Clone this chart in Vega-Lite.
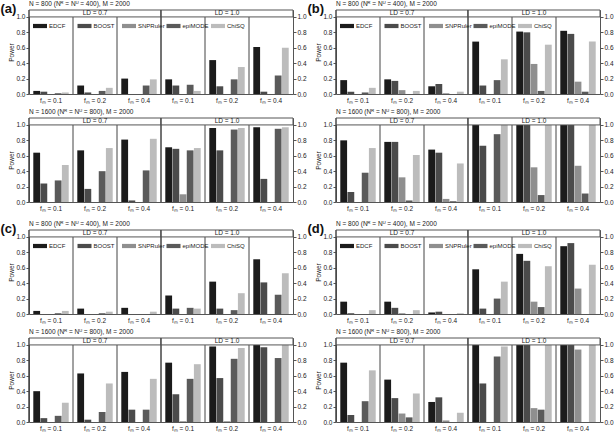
{
  "$schema": "https://vega.github.io/schema/vega-lite/v6.json",
  "padding": 0,
  "background": "white",
  "config": {
    "font": "Liberation Sans",
    "view": {"stroke": "#555", "strokeWidth": 1},
    "axis": {"labelFontSize": 6.5, "titleFontSize": 6.5, "titleFontWeight": "normal", "labelColor": "#222", "titleColor": "#222", "tickColor": "#555"},
    "title": {"fontSize": 6.5, "fontWeight": "normal", "color": "#222"}
  },
  "datasets": {
    "bars": [
      {"panel":"a","N":800,"LD":"LD = 0.7","cond":"0.7 0.1","method":"EDCF","power":0.04},
      {"panel":"a","N":800,"LD":"LD = 0.7","cond":"0.7 0.1","method":"BOOST","power":0.03},
      {"panel":"a","N":800,"LD":"LD = 0.7","cond":"0.7 0.1","method":"SNPRuler","power":0},
      {"panel":"a","N":800,"LD":"LD = 0.7","cond":"0.7 0.1","method":"epiMODE","power":0.01},
      {"panel":"a","N":800,"LD":"LD = 0.7","cond":"0.7 0.1","method":"ChiSQ","power":0.02},
      {"panel":"a","N":800,"LD":"LD = 0.7","cond":"0.7 0.2","method":"EDCF","power":0.11},
      {"panel":"a","N":800,"LD":"LD = 0.7","cond":"0.7 0.2","method":"BOOST","power":0.02},
      {"panel":"a","N":800,"LD":"LD = 0.7","cond":"0.7 0.2","method":"SNPRuler","power":0},
      {"panel":"a","N":800,"LD":"LD = 0.7","cond":"0.7 0.2","method":"epiMODE","power":0.04},
      {"panel":"a","N":800,"LD":"LD = 0.7","cond":"0.7 0.2","method":"ChiSQ","power":0.08},
      {"panel":"a","N":800,"LD":"LD = 0.7","cond":"0.7 0.4","method":"EDCF","power":0.20},
      {"panel":"a","N":800,"LD":"LD = 0.7","cond":"0.7 0.4","method":"BOOST","power":0},
      {"panel":"a","N":800,"LD":"LD = 0.7","cond":"0.7 0.4","method":"SNPRuler","power":0},
      {"panel":"a","N":800,"LD":"LD = 0.7","cond":"0.7 0.4","method":"epiMODE","power":0.11},
      {"panel":"a","N":800,"LD":"LD = 0.7","cond":"0.7 0.4","method":"ChiSQ","power":0.19},
      {"panel":"a","N":800,"LD":"LD = 1.0","cond":"1.0 0.1","method":"EDCF","power":0.19},
      {"panel":"a","N":800,"LD":"LD = 1.0","cond":"1.0 0.1","method":"BOOST","power":0.11},
      {"panel":"a","N":800,"LD":"LD = 1.0","cond":"1.0 0.1","method":"SNPRuler","power":0},
      {"panel":"a","N":800,"LD":"LD = 1.0","cond":"1.0 0.1","method":"epiMODE","power":0.12},
      {"panel":"a","N":800,"LD":"LD = 1.0","cond":"1.0 0.1","method":"ChiSQ","power":0.04},
      {"panel":"a","N":800,"LD":"LD = 1.0","cond":"1.0 0.2","method":"EDCF","power":0.44},
      {"panel":"a","N":800,"LD":"LD = 1.0","cond":"1.0 0.2","method":"BOOST","power":0.10},
      {"panel":"a","N":800,"LD":"LD = 1.0","cond":"1.0 0.2","method":"SNPRuler","power":0},
      {"panel":"a","N":800,"LD":"LD = 1.0","cond":"1.0 0.2","method":"epiMODE","power":0.19},
      {"panel":"a","N":800,"LD":"LD = 1.0","cond":"1.0 0.2","method":"ChiSQ","power":0.35},
      {"panel":"a","N":800,"LD":"LD = 1.0","cond":"1.0 0.4","method":"EDCF","power":0.61},
      {"panel":"a","N":800,"LD":"LD = 1.0","cond":"1.0 0.4","method":"BOOST","power":0.03},
      {"panel":"a","N":800,"LD":"LD = 1.0","cond":"1.0 0.4","method":"SNPRuler","power":0},
      {"panel":"a","N":800,"LD":"LD = 1.0","cond":"1.0 0.4","method":"epiMODE","power":0.24},
      {"panel":"a","N":800,"LD":"LD = 1.0","cond":"1.0 0.4","method":"ChiSQ","power":0.60},

      {"panel":"a","N":1600,"LD":"LD = 0.7","cond":"0.7 0.1","method":"EDCF","power":0.64},
      {"panel":"a","N":1600,"LD":"LD = 0.7","cond":"0.7 0.1","method":"BOOST","power":0.24},
      {"panel":"a","N":1600,"LD":"LD = 0.7","cond":"0.7 0.1","method":"SNPRuler","power":0},
      {"panel":"a","N":1600,"LD":"LD = 0.7","cond":"0.7 0.1","method":"epiMODE","power":0.28},
      {"panel":"a","N":1600,"LD":"LD = 0.7","cond":"0.7 0.1","method":"ChiSQ","power":0.48},
      {"panel":"a","N":1600,"LD":"LD = 0.7","cond":"0.7 0.2","method":"EDCF","power":0.67},
      {"panel":"a","N":1600,"LD":"LD = 0.7","cond":"0.7 0.2","method":"BOOST","power":0.17},
      {"panel":"a","N":1600,"LD":"LD = 0.7","cond":"0.7 0.2","method":"SNPRuler","power":0},
      {"panel":"a","N":1600,"LD":"LD = 0.7","cond":"0.7 0.2","method":"epiMODE","power":0.40},
      {"panel":"a","N":1600,"LD":"LD = 0.7","cond":"0.7 0.2","method":"ChiSQ","power":0.70},
      {"panel":"a","N":1600,"LD":"LD = 0.7","cond":"0.7 0.4","method":"EDCF","power":0.81},
      {"panel":"a","N":1600,"LD":"LD = 0.7","cond":"0.7 0.4","method":"BOOST","power":0.02},
      {"panel":"a","N":1600,"LD":"LD = 0.7","cond":"0.7 0.4","method":"SNPRuler","power":0},
      {"panel":"a","N":1600,"LD":"LD = 0.7","cond":"0.7 0.4","method":"epiMODE","power":0.41},
      {"panel":"a","N":1600,"LD":"LD = 0.7","cond":"0.7 0.4","method":"ChiSQ","power":0.82},
      {"panel":"a","N":1600,"LD":"LD = 1.0","cond":"1.0 0.1","method":"EDCF","power":0.71},
      {"panel":"a","N":1600,"LD":"LD = 1.0","cond":"1.0 0.1","method":"BOOST","power":0.69},
      {"panel":"a","N":1600,"LD":"LD = 1.0","cond":"1.0 0.1","method":"SNPRuler","power":0.10},
      {"panel":"a","N":1600,"LD":"LD = 1.0","cond":"1.0 0.1","method":"epiMODE","power":0.67},
      {"panel":"a","N":1600,"LD":"LD = 1.0","cond":"1.0 0.1","method":"ChiSQ","power":0.70},
      {"panel":"a","N":1600,"LD":"LD = 1.0","cond":"1.0 0.2","method":"EDCF","power":0.96},
      {"panel":"a","N":1600,"LD":"LD = 1.0","cond":"1.0 0.2","method":"BOOST","power":0.67},
      {"panel":"a","N":1600,"LD":"LD = 1.0","cond":"1.0 0.2","method":"SNPRuler","power":0},
      {"panel":"a","N":1600,"LD":"LD = 1.0","cond":"1.0 0.2","method":"epiMODE","power":0.94},
      {"panel":"a","N":1600,"LD":"LD = 1.0","cond":"1.0 0.2","method":"ChiSQ","power":0.96},
      {"panel":"a","N":1600,"LD":"LD = 1.0","cond":"1.0 0.4","method":"EDCF","power":0.97},
      {"panel":"a","N":1600,"LD":"LD = 1.0","cond":"1.0 0.4","method":"BOOST","power":0.30},
      {"panel":"a","N":1600,"LD":"LD = 1.0","cond":"1.0 0.4","method":"SNPRuler","power":0},
      {"panel":"a","N":1600,"LD":"LD = 1.0","cond":"1.0 0.4","method":"epiMODE","power":0.95},
      {"panel":"a","N":1600,"LD":"LD = 1.0","cond":"1.0 0.4","method":"ChiSQ","power":0.97},

      {"panel":"b","N":800,"LD":"LD = 0.7","cond":"0.7 0.1","method":"EDCF","power":0.18},
      {"panel":"b","N":800,"LD":"LD = 0.7","cond":"0.7 0.1","method":"BOOST","power":0.03},
      {"panel":"b","N":800,"LD":"LD = 0.7","cond":"0.7 0.1","method":"SNPRuler","power":0},
      {"panel":"b","N":800,"LD":"LD = 0.7","cond":"0.7 0.1","method":"epiMODE","power":0.02},
      {"panel":"b","N":800,"LD":"LD = 0.7","cond":"0.7 0.1","method":"ChiSQ","power":0.08},
      {"panel":"b","N":800,"LD":"LD = 0.7","cond":"0.7 0.2","method":"EDCF","power":0.19},
      {"panel":"b","N":800,"LD":"LD = 0.7","cond":"0.7 0.2","method":"BOOST","power":0.17},
      {"panel":"b","N":800,"LD":"LD = 0.7","cond":"0.7 0.2","method":"SNPRuler","power":0.05},
      {"panel":"b","N":800,"LD":"LD = 0.7","cond":"0.7 0.2","method":"epiMODE","power":0},
      {"panel":"b","N":800,"LD":"LD = 0.7","cond":"0.7 0.2","method":"ChiSQ","power":0.04},
      {"panel":"b","N":800,"LD":"LD = 0.7","cond":"0.7 0.4","method":"EDCF","power":0.10},
      {"panel":"b","N":800,"LD":"LD = 0.7","cond":"0.7 0.4","method":"BOOST","power":0.13},
      {"panel":"b","N":800,"LD":"LD = 0.7","cond":"0.7 0.4","method":"SNPRuler","power":0.01},
      {"panel":"b","N":800,"LD":"LD = 0.7","cond":"0.7 0.4","method":"epiMODE","power":0},
      {"panel":"b","N":800,"LD":"LD = 0.7","cond":"0.7 0.4","method":"ChiSQ","power":0.03},
      {"panel":"b","N":800,"LD":"LD = 1.0","cond":"1.0 0.1","method":"EDCF","power":0.68},
      {"panel":"b","N":800,"LD":"LD = 1.0","cond":"1.0 0.1","method":"BOOST","power":0.11},
      {"panel":"b","N":800,"LD":"LD = 1.0","cond":"1.0 0.1","method":"SNPRuler","power":0},
      {"panel":"b","N":800,"LD":"LD = 1.0","cond":"1.0 0.1","method":"epiMODE","power":0.18},
      {"panel":"b","N":800,"LD":"LD = 1.0","cond":"1.0 0.1","method":"ChiSQ","power":0.45},
      {"panel":"b","N":800,"LD":"LD = 1.0","cond":"1.0 0.2","method":"EDCF","power":0.81},
      {"panel":"b","N":800,"LD":"LD = 1.0","cond":"1.0 0.2","method":"BOOST","power":0.80},
      {"panel":"b","N":800,"LD":"LD = 1.0","cond":"1.0 0.2","method":"SNPRuler","power":0.39},
      {"panel":"b","N":800,"LD":"LD = 1.0","cond":"1.0 0.2","method":"epiMODE","power":0.04},
      {"panel":"b","N":800,"LD":"LD = 1.0","cond":"1.0 0.2","method":"ChiSQ","power":0.64},
      {"panel":"b","N":800,"LD":"LD = 1.0","cond":"1.0 0.4","method":"EDCF","power":0.82},
      {"panel":"b","N":800,"LD":"LD = 1.0","cond":"1.0 0.4","method":"BOOST","power":0.78},
      {"panel":"b","N":800,"LD":"LD = 1.0","cond":"1.0 0.4","method":"SNPRuler","power":0.16},
      {"panel":"b","N":800,"LD":"LD = 1.0","cond":"1.0 0.4","method":"epiMODE","power":0.03},
      {"panel":"b","N":800,"LD":"LD = 1.0","cond":"1.0 0.4","method":"ChiSQ","power":0.68},

      {"panel":"b","N":1600,"LD":"LD = 0.7","cond":"0.7 0.1","method":"EDCF","power":0.80},
      {"panel":"b","N":1600,"LD":"LD = 0.7","cond":"0.7 0.1","method":"BOOST","power":0.13},
      {"panel":"b","N":1600,"LD":"LD = 0.7","cond":"0.7 0.1","method":"SNPRuler","power":0},
      {"panel":"b","N":1600,"LD":"LD = 0.7","cond":"0.7 0.1","method":"epiMODE","power":0.38},
      {"panel":"b","N":1600,"LD":"LD = 0.7","cond":"0.7 0.1","method":"ChiSQ","power":0.70},
      {"panel":"b","N":1600,"LD":"LD = 0.7","cond":"0.7 0.2","method":"EDCF","power":0.78},
      {"panel":"b","N":1600,"LD":"LD = 0.7","cond":"0.7 0.2","method":"BOOST","power":0.78},
      {"panel":"b","N":1600,"LD":"LD = 0.7","cond":"0.7 0.2","method":"SNPRuler","power":0.32},
      {"panel":"b","N":1600,"LD":"LD = 0.7","cond":"0.7 0.2","method":"epiMODE","power":0.02},
      {"panel":"b","N":1600,"LD":"LD = 0.7","cond":"0.7 0.2","method":"ChiSQ","power":0.61},
      {"panel":"b","N":1600,"LD":"LD = 0.7","cond":"0.7 0.4","method":"EDCF","power":0.68},
      {"panel":"b","N":1600,"LD":"LD = 0.7","cond":"0.7 0.4","method":"BOOST","power":0.64},
      {"panel":"b","N":1600,"LD":"LD = 0.7","cond":"0.7 0.4","method":"SNPRuler","power":0.04},
      {"panel":"b","N":1600,"LD":"LD = 0.7","cond":"0.7 0.4","method":"epiMODE","power":0.01},
      {"panel":"b","N":1600,"LD":"LD = 0.7","cond":"0.7 0.4","method":"ChiSQ","power":0.50},
      {"panel":"b","N":1600,"LD":"LD = 1.0","cond":"1.0 0.1","method":"EDCF","power":1.0},
      {"panel":"b","N":1600,"LD":"LD = 1.0","cond":"1.0 0.1","method":"BOOST","power":0.73},
      {"panel":"b","N":1600,"LD":"LD = 1.0","cond":"1.0 0.1","method":"SNPRuler","power":0},
      {"panel":"b","N":1600,"LD":"LD = 1.0","cond":"1.0 0.1","method":"epiMODE","power":0.88},
      {"panel":"b","N":1600,"LD":"LD = 1.0","cond":"1.0 0.1","method":"ChiSQ","power":1.0},
      {"panel":"b","N":1600,"LD":"LD = 1.0","cond":"1.0 0.2","method":"EDCF","power":1.0},
      {"panel":"b","N":1600,"LD":"LD = 1.0","cond":"1.0 0.2","method":"BOOST","power":1.0},
      {"panel":"b","N":1600,"LD":"LD = 1.0","cond":"1.0 0.2","method":"SNPRuler","power":0.45},
      {"panel":"b","N":1600,"LD":"LD = 1.0","cond":"1.0 0.2","method":"epiMODE","power":0.09},
      {"panel":"b","N":1600,"LD":"LD = 1.0","cond":"1.0 0.2","method":"ChiSQ","power":1.0},
      {"panel":"b","N":1600,"LD":"LD = 1.0","cond":"1.0 0.4","method":"EDCF","power":1.0},
      {"panel":"b","N":1600,"LD":"LD = 1.0","cond":"1.0 0.4","method":"BOOST","power":1.0},
      {"panel":"b","N":1600,"LD":"LD = 1.0","cond":"1.0 0.4","method":"SNPRuler","power":0.47},
      {"panel":"b","N":1600,"LD":"LD = 1.0","cond":"1.0 0.4","method":"epiMODE","power":0.11},
      {"panel":"b","N":1600,"LD":"LD = 1.0","cond":"1.0 0.4","method":"ChiSQ","power":1.0},

      {"panel":"c","N":800,"LD":"LD = 0.7","cond":"0.7 0.1","method":"EDCF","power":0.04},
      {"panel":"c","N":800,"LD":"LD = 0.7","cond":"0.7 0.1","method":"BOOST","power":0},
      {"panel":"c","N":800,"LD":"LD = 0.7","cond":"0.7 0.1","method":"SNPRuler","power":0},
      {"panel":"c","N":800,"LD":"LD = 0.7","cond":"0.7 0.1","method":"epiMODE","power":0.01},
      {"panel":"c","N":800,"LD":"LD = 0.7","cond":"0.7 0.1","method":"ChiSQ","power":0.04},
      {"panel":"c","N":800,"LD":"LD = 0.7","cond":"0.7 0.2","method":"EDCF","power":0.07},
      {"panel":"c","N":800,"LD":"LD = 0.7","cond":"0.7 0.2","method":"BOOST","power":0},
      {"panel":"c","N":800,"LD":"LD = 0.7","cond":"0.7 0.2","method":"SNPRuler","power":0},
      {"panel":"c","N":800,"LD":"LD = 0.7","cond":"0.7 0.2","method":"epiMODE","power":0.01},
      {"panel":"c","N":800,"LD":"LD = 0.7","cond":"0.7 0.2","method":"ChiSQ","power":0.03},
      {"panel":"c","N":800,"LD":"LD = 0.7","cond":"0.7 0.4","method":"EDCF","power":0.08},
      {"panel":"c","N":800,"LD":"LD = 0.7","cond":"0.7 0.4","method":"BOOST","power":0},
      {"panel":"c","N":800,"LD":"LD = 0.7","cond":"0.7 0.4","method":"SNPRuler","power":0},
      {"panel":"c","N":800,"LD":"LD = 0.7","cond":"0.7 0.4","method":"epiMODE","power":0},
      {"panel":"c","N":800,"LD":"LD = 0.7","cond":"0.7 0.4","method":"ChiSQ","power":0.03},
      {"panel":"c","N":800,"LD":"LD = 1.0","cond":"1.0 0.1","method":"EDCF","power":0.24},
      {"panel":"c","N":800,"LD":"LD = 1.0","cond":"1.0 0.1","method":"BOOST","power":0.07},
      {"panel":"c","N":800,"LD":"LD = 1.0","cond":"1.0 0.1","method":"SNPRuler","power":0},
      {"panel":"c","N":800,"LD":"LD = 1.0","cond":"1.0 0.1","method":"epiMODE","power":0.08},
      {"panel":"c","N":800,"LD":"LD = 1.0","cond":"1.0 0.1","method":"ChiSQ","power":0.07},
      {"panel":"c","N":800,"LD":"LD = 1.0","cond":"1.0 0.2","method":"EDCF","power":0.42},
      {"panel":"c","N":800,"LD":"LD = 1.0","cond":"1.0 0.2","method":"BOOST","power":0.07},
      {"panel":"c","N":800,"LD":"LD = 1.0","cond":"1.0 0.2","method":"SNPRuler","power":0},
      {"panel":"c","N":800,"LD":"LD = 1.0","cond":"1.0 0.2","method":"epiMODE","power":0.05},
      {"panel":"c","N":800,"LD":"LD = 1.0","cond":"1.0 0.2","method":"ChiSQ","power":0.27},
      {"panel":"c","N":800,"LD":"LD = 1.0","cond":"1.0 0.4","method":"EDCF","power":0.71},
      {"panel":"c","N":800,"LD":"LD = 1.0","cond":"1.0 0.4","method":"BOOST","power":0.41},
      {"panel":"c","N":800,"LD":"LD = 1.0","cond":"1.0 0.4","method":"SNPRuler","power":0},
      {"panel":"c","N":800,"LD":"LD = 1.0","cond":"1.0 0.4","method":"epiMODE","power":0.25},
      {"panel":"c","N":800,"LD":"LD = 1.0","cond":"1.0 0.4","method":"ChiSQ","power":0.53},

      {"panel":"c","N":1600,"LD":"LD = 0.7","cond":"0.7 0.1","method":"EDCF","power":0.40},
      {"panel":"c","N":1600,"LD":"LD = 0.7","cond":"0.7 0.1","method":"BOOST","power":0.05},
      {"panel":"c","N":1600,"LD":"LD = 0.7","cond":"0.7 0.1","method":"SNPRuler","power":0},
      {"panel":"c","N":1600,"LD":"LD = 0.7","cond":"0.7 0.1","method":"epiMODE","power":0.08},
      {"panel":"c","N":1600,"LD":"LD = 0.7","cond":"0.7 0.1","method":"ChiSQ","power":0.25},
      {"panel":"c","N":1600,"LD":"LD = 0.7","cond":"0.7 0.2","method":"EDCF","power":0.63},
      {"panel":"c","N":1600,"LD":"LD = 0.7","cond":"0.7 0.2","method":"BOOST","power":0.03},
      {"panel":"c","N":1600,"LD":"LD = 0.7","cond":"0.7 0.2","method":"SNPRuler","power":0},
      {"panel":"c","N":1600,"LD":"LD = 0.7","cond":"0.7 0.2","method":"epiMODE","power":0.13},
      {"panel":"c","N":1600,"LD":"LD = 0.7","cond":"0.7 0.2","method":"ChiSQ","power":0.50},
      {"panel":"c","N":1600,"LD":"LD = 0.7","cond":"0.7 0.4","method":"EDCF","power":0.65},
      {"panel":"c","N":1600,"LD":"LD = 0.7","cond":"0.7 0.4","method":"BOOST","power":0.16},
      {"panel":"c","N":1600,"LD":"LD = 0.7","cond":"0.7 0.4","method":"SNPRuler","power":0},
      {"panel":"c","N":1600,"LD":"LD = 0.7","cond":"0.7 0.4","method":"epiMODE","power":0.16},
      {"panel":"c","N":1600,"LD":"LD = 0.7","cond":"0.7 0.4","method":"ChiSQ","power":0.56},
      {"panel":"c","N":1600,"LD":"LD = 1.0","cond":"1.0 0.1","method":"EDCF","power":0.77},
      {"panel":"c","N":1600,"LD":"LD = 1.0","cond":"1.0 0.1","method":"BOOST","power":0.36},
      {"panel":"c","N":1600,"LD":"LD = 1.0","cond":"1.0 0.1","method":"SNPRuler","power":0.01},
      {"panel":"c","N":1600,"LD":"LD = 1.0","cond":"1.0 0.1","method":"epiMODE","power":0.56},
      {"panel":"c","N":1600,"LD":"LD = 1.0","cond":"1.0 0.1","method":"ChiSQ","power":0.75},
      {"panel":"c","N":1600,"LD":"LD = 1.0","cond":"1.0 0.2","method":"EDCF","power":0.98},
      {"panel":"c","N":1600,"LD":"LD = 1.0","cond":"1.0 0.2","method":"BOOST","power":0.57},
      {"panel":"c","N":1600,"LD":"LD = 1.0","cond":"1.0 0.2","method":"SNPRuler","power":0.01},
      {"panel":"c","N":1600,"LD":"LD = 1.0","cond":"1.0 0.2","method":"epiMODE","power":0.82},
      {"panel":"c","N":1600,"LD":"LD = 1.0","cond":"1.0 0.2","method":"ChiSQ","power":0.96},
      {"panel":"c","N":1600,"LD":"LD = 1.0","cond":"1.0 0.4","method":"EDCF","power":1.0},
      {"panel":"c","N":1600,"LD":"LD = 1.0","cond":"1.0 0.4","method":"BOOST","power":0.97},
      {"panel":"c","N":1600,"LD":"LD = 1.0","cond":"1.0 0.4","method":"SNPRuler","power":0},
      {"panel":"c","N":1600,"LD":"LD = 1.0","cond":"1.0 0.4","method":"epiMODE","power":0.83},
      {"panel":"c","N":1600,"LD":"LD = 1.0","cond":"1.0 0.4","method":"ChiSQ","power":1.0},

      {"panel":"d","N":800,"LD":"LD = 0.7","cond":"0.7 0.1","method":"EDCF","power":0.16},
      {"panel":"d","N":800,"LD":"LD = 0.7","cond":"0.7 0.1","method":"BOOST","power":0.01},
      {"panel":"d","N":800,"LD":"LD = 0.7","cond":"0.7 0.1","method":"SNPRuler","power":0},
      {"panel":"d","N":800,"LD":"LD = 0.7","cond":"0.7 0.1","method":"epiMODE","power":0},
      {"panel":"d","N":800,"LD":"LD = 0.7","cond":"0.7 0.1","method":"ChiSQ","power":0.05},
      {"panel":"d","N":800,"LD":"LD = 0.7","cond":"0.7 0.2","method":"EDCF","power":0.16},
      {"panel":"d","N":800,"LD":"LD = 0.7","cond":"0.7 0.2","method":"BOOST","power":0.08},
      {"panel":"d","N":800,"LD":"LD = 0.7","cond":"0.7 0.2","method":"SNPRuler","power":0.01},
      {"panel":"d","N":800,"LD":"LD = 0.7","cond":"0.7 0.2","method":"epiMODE","power":0},
      {"panel":"d","N":800,"LD":"LD = 0.7","cond":"0.7 0.2","method":"ChiSQ","power":0.05},
      {"panel":"d","N":800,"LD":"LD = 0.7","cond":"0.7 0.4","method":"EDCF","power":0.02},
      {"panel":"d","N":800,"LD":"LD = 0.7","cond":"0.7 0.4","method":"BOOST","power":0.03},
      {"panel":"d","N":800,"LD":"LD = 0.7","cond":"0.7 0.4","method":"SNPRuler","power":0},
      {"panel":"d","N":800,"LD":"LD = 0.7","cond":"0.7 0.4","method":"epiMODE","power":0},
      {"panel":"d","N":800,"LD":"LD = 0.7","cond":"0.7 0.4","method":"ChiSQ","power":0.01},
      {"panel":"d","N":800,"LD":"LD = 1.0","cond":"1.0 0.1","method":"EDCF","power":0.58},
      {"panel":"d","N":800,"LD":"LD = 1.0","cond":"1.0 0.1","method":"BOOST","power":0.07},
      {"panel":"d","N":800,"LD":"LD = 1.0","cond":"1.0 0.1","method":"SNPRuler","power":0},
      {"panel":"d","N":800,"LD":"LD = 1.0","cond":"1.0 0.1","method":"epiMODE","power":0.20},
      {"panel":"d","N":800,"LD":"LD = 1.0","cond":"1.0 0.1","method":"ChiSQ","power":0.42},
      {"panel":"d","N":800,"LD":"LD = 1.0","cond":"1.0 0.2","method":"EDCF","power":0.78},
      {"panel":"d","N":800,"LD":"LD = 1.0","cond":"1.0 0.2","method":"BOOST","power":0.69},
      {"panel":"d","N":800,"LD":"LD = 1.0","cond":"1.0 0.2","method":"SNPRuler","power":0.16},
      {"panel":"d","N":800,"LD":"LD = 1.0","cond":"1.0 0.2","method":"epiMODE","power":0.09},
      {"panel":"d","N":800,"LD":"LD = 1.0","cond":"1.0 0.2","method":"ChiSQ","power":0.62},
      {"panel":"d","N":800,"LD":"LD = 1.0","cond":"1.0 0.4","method":"EDCF","power":0.88},
      {"panel":"d","N":800,"LD":"LD = 1.0","cond":"1.0 0.4","method":"BOOST","power":0.92},
      {"panel":"d","N":800,"LD":"LD = 1.0","cond":"1.0 0.4","method":"SNPRuler","power":0.33},
      {"panel":"d","N":800,"LD":"LD = 1.0","cond":"1.0 0.4","method":"epiMODE","power":0},
      {"panel":"d","N":800,"LD":"LD = 1.0","cond":"1.0 0.4","method":"ChiSQ","power":0.64},

      {"panel":"d","N":1600,"LD":"LD = 0.7","cond":"0.7 0.1","method":"EDCF","power":0.77},
      {"panel":"d","N":1600,"LD":"LD = 0.7","cond":"0.7 0.1","method":"BOOST","power":0.09},
      {"panel":"d","N":1600,"LD":"LD = 0.7","cond":"0.7 0.1","method":"SNPRuler","power":0},
      {"panel":"d","N":1600,"LD":"LD = 0.7","cond":"0.7 0.1","method":"epiMODE","power":0.27},
      {"panel":"d","N":1600,"LD":"LD = 0.7","cond":"0.7 0.1","method":"ChiSQ","power":0.67},
      {"panel":"d","N":1600,"LD":"LD = 0.7","cond":"0.7 0.2","method":"EDCF","power":0.55},
      {"panel":"d","N":1600,"LD":"LD = 0.7","cond":"0.7 0.2","method":"BOOST","power":0.31},
      {"panel":"d","N":1600,"LD":"LD = 0.7","cond":"0.7 0.2","method":"SNPRuler","power":0.11},
      {"panel":"d","N":1600,"LD":"LD = 0.7","cond":"0.7 0.2","method":"epiMODE","power":0.06},
      {"panel":"d","N":1600,"LD":"LD = 0.7","cond":"0.7 0.2","method":"ChiSQ","power":0.37},
      {"panel":"d","N":1600,"LD":"LD = 0.7","cond":"0.7 0.4","method":"EDCF","power":0.26},
      {"panel":"d","N":1600,"LD":"LD = 0.7","cond":"0.7 0.4","method":"BOOST","power":0.32},
      {"panel":"d","N":1600,"LD":"LD = 0.7","cond":"0.7 0.4","method":"SNPRuler","power":0.02},
      {"panel":"d","N":1600,"LD":"LD = 0.7","cond":"0.7 0.4","method":"epiMODE","power":0},
      {"panel":"d","N":1600,"LD":"LD = 0.7","cond":"0.7 0.4","method":"ChiSQ","power":0.12},
      {"panel":"d","N":1600,"LD":"LD = 1.0","cond":"1.0 0.1","method":"EDCF","power":1.0},
      {"panel":"d","N":1600,"LD":"LD = 1.0","cond":"1.0 0.1","method":"BOOST","power":0.50},
      {"panel":"d","N":1600,"LD":"LD = 1.0","cond":"1.0 0.1","method":"SNPRuler","power":0},
      {"panel":"d","N":1600,"LD":"LD = 1.0","cond":"1.0 0.1","method":"epiMODE","power":0.85},
      {"panel":"d","N":1600,"LD":"LD = 1.0","cond":"1.0 0.1","method":"ChiSQ","power":0.98},
      {"panel":"d","N":1600,"LD":"LD = 1.0","cond":"1.0 0.2","method":"EDCF","power":1.0},
      {"panel":"d","N":1600,"LD":"LD = 1.0","cond":"1.0 0.2","method":"BOOST","power":1.0},
      {"panel":"d","N":1600,"LD":"LD = 1.0","cond":"1.0 0.2","method":"SNPRuler","power":0.18},
      {"panel":"d","N":1600,"LD":"LD = 1.0","cond":"1.0 0.2","method":"epiMODE","power":0.16},
      {"panel":"d","N":1600,"LD":"LD = 1.0","cond":"1.0 0.2","method":"ChiSQ","power":1.0},
      {"panel":"d","N":1600,"LD":"LD = 1.0","cond":"1.0 0.4","method":"EDCF","power":1.0},
      {"panel":"d","N":1600,"LD":"LD = 1.0","cond":"1.0 0.4","method":"BOOST","power":1.0},
      {"panel":"d","N":1600,"LD":"LD = 1.0","cond":"1.0 0.4","method":"SNPRuler","power":0.94},
      {"panel":"d","N":1600,"LD":"LD = 1.0","cond":"1.0 0.4","method":"epiMODE","power":0},
      {"panel":"d","N":1600,"LD":"LD = 1.0","cond":"1.0 0.4","method":"ChiSQ","power":1.0}
    ]
  },
  "resolve": {"scale": {"color": "independent"}},
  "spacing": 8,
  "vconcat": [
    {
      "resolve": {"scale": {"color": "independent"}},
      "spacing": 0,
      "hconcat": [
        {
          "title": {"text": "(a)", "anchor": "start", "frame": "bounds", "fontSize": 13, "fontWeight": "bold", "color": "#111", "dx": -8, "dy": 15, "offset": 0},
          "resolve": {"scale": {"color": "independent"}},
          "spacing": 4,
          "vconcat": [
            {
              "data": {"name": "bars"},
              "transform": [{"filter": "datum.panel == 'a' && datum.N == 800"}],
              "title": {"text": "N = 800 (Nᴿ = Nᵁ = 400), M = 2000", "anchor": "start", "frame": "group", "offset": 2},
              "width": 264, "height": 84,
              "resolve": {"scale": {"x": "independent"}, "axis": {"y": "independent"}},
              "layer": [
                {
                  "mark": {"type": "bar", "strokeWidth": 0},
                  "encoding": {
                    "x": {"field": "cond", "type": "nominal", "sort": "ascending", "scale": {"paddingInner": 0, "paddingOuter": 0}, "axis": {"orient": "bottom", "title": null, "ticks": false, "domain": false, "labelAngle": 0, "labelPadding": 3, "labelExpr": "'fₘ = ' + slice(datum.label, -3)"}},
                    "xOffset": {"field": "method", "type": "nominal", "sort": ["EDCF", "BOOST", "SNPRuler", "epiMODE", "ChiSQ"], "scale": {"paddingInner": 0.05, "paddingOuter": 0.6}},
                    "y": {"field": "power", "type": "quantitative", "stack": null, "scale": {"domain": [0, 1.09], "nice": false}, "axis": {"orient": "left", "title": "Power", "values": [0, 0.2, 0.4, 0.6, 0.8, 1], "format": ".1f", "grid": false, "domain": false, "tickSize": 3, "labelPadding": 1, "titlePadding": 1}},
                    "color": {"field": "method", "type": "nominal", "scale": {"domain": ["EDCF", "BOOST", "SNPRuler", "epiMODE", "ChiSQ"], "range": ["#1b1b1b", "#4b4b4b", "#8f8f8f", "#5a5a5a", "#bcbcbc"]}, "legend": {"orient": "none", "legendX": 4, "legendY": 9, "direction": "horizontal", "columns": 5, "gridAlign": "all", "title": null, "symbolType": "M-1,-0.3L1,-0.3L1,0.3L-1,0.3Z", "symbolSize": 196, "symbolStrokeWidth": 0, "symbolOpacity": 1, "labelFontSize": 6, "labelOffset": 2, "columnPadding": 1.5, "padding": 0, "labelColor": "#222"}}
                  }
                },
                {
                  "transform": [{"aggregate": [{"op": "count", "as": "n"}], "groupby": ["cond"]}],
                  "mark": {"type": "rule", "color": "#444", "strokeWidth": 1},
                  "encoding": {
                    "x": {"field": "cond", "type": "nominal", "bandPosition": 0, "sort": "ascending", "scale": {"paddingInner": 0, "paddingOuter": 0}, "axis": null},
                    "y": {"datum": 0, "type": "quantitative", "scale": {"domain": [0, 1.09], "nice": false}, "axis": {"orient": "right", "title": null, "values": [0, 0.2, 0.4, 0.6, 0.8, 1], "format": ".1f", "grid": false, "domain": false, "tickSize": 3, "labelPadding": 1}},
                    "y2": {"datum": 1}
                  }
                },
                {
                  "transform": [{"aggregate": [{"op": "count", "as": "n"}], "groupby": ["LD"]}],
                  "mark": {"type": "rect", "fill": "white", "stroke": "#555", "strokeWidth": 1},
                  "encoding": {
                    "x": {"field": "LD", "type": "nominal", "scale": {"paddingInner": 0, "paddingOuter": 0}, "axis": null},
                    "y": {"datum": 1, "type": "quantitative", "scale": {"domain": [0, 1.09], "nice": false}, "axis": null},
                    "y2": {"datum": 1.09}
                  }
                },
                {
                  "transform": [{"aggregate": [{"op": "count", "as": "n"}], "groupby": ["LD"]}],
                  "mark": {"type": "rule", "color": "#444", "strokeWidth": 1},
                  "encoding": {
                    "x": {"field": "LD", "type": "nominal", "bandPosition": 0, "scale": {"paddingInner": 0, "paddingOuter": 0}, "axis": null},
                    "y": {"datum": 0, "type": "quantitative", "scale": {"domain": [0, 1.09], "nice": false}, "axis": null},
                    "y2": {"datum": 1.09}
                  }
                },
                {
                  "transform": [{"aggregate": [{"op": "count", "as": "n"}], "groupby": ["LD"]}],
                  "mark": {"type": "text", "fontSize": 6.5, "color": "#222", "baseline": "middle"},
                  "encoding": {
                    "x": {"field": "LD", "type": "nominal", "scale": {"paddingInner": 0, "paddingOuter": 0}, "axis": null},
                    "y": {"datum": 1.045, "type": "quantitative", "scale": {"domain": [0, 1.09], "nice": false}, "axis": null},
                    "text": {"field": "LD"}
                  }
                }
              ]
            },
            {
              "data": {"name": "bars"},
              "transform": [{"filter": "datum.panel == 'a' && datum.N == 1600"}],
              "title": {"text": "N = 1600 (Nᴿ = Nᵁ = 800), M = 2000", "anchor": "start", "frame": "group", "offset": 2},
              "width": 264, "height": 84,
              "resolve": {"scale": {"x": "independent"}, "axis": {"y": "independent"}},
              "layer": [
                {
                  "mark": {"type": "bar", "strokeWidth": 0},
                  "encoding": {
                    "x": {"field": "cond", "type": "nominal", "sort": "ascending", "scale": {"paddingInner": 0, "paddingOuter": 0}, "axis": {"orient": "bottom", "title": null, "ticks": false, "domain": false, "labelAngle": 0, "labelPadding": 3, "labelExpr": "'fₘ = ' + slice(datum.label, -3)"}},
                    "xOffset": {"field": "method", "type": "nominal", "sort": ["EDCF", "BOOST", "SNPRuler", "epiMODE", "ChiSQ"], "scale": {"paddingInner": 0.05, "paddingOuter": 0.6}},
                    "y": {"field": "power", "type": "quantitative", "stack": null, "scale": {"domain": [0, 1.09], "nice": false}, "axis": {"orient": "left", "title": "Power", "values": [0, 0.2, 0.4, 0.6, 0.8, 1], "format": ".1f", "grid": false, "domain": false, "tickSize": 3, "labelPadding": 1, "titlePadding": 1}},
                    "color": {"field": "method", "type": "nominal", "scale": {"domain": ["EDCF", "BOOST", "SNPRuler", "epiMODE", "ChiSQ"], "range": ["#1b1b1b", "#4b4b4b", "#8f8f8f", "#5a5a5a", "#bcbcbc"]}, "legend": null}
                  }
                },
                {
                  "transform": [{"aggregate": [{"op": "count", "as": "n"}], "groupby": ["cond"]}],
                  "mark": {"type": "rule", "color": "#444", "strokeWidth": 1},
                  "encoding": {
                    "x": {"field": "cond", "type": "nominal", "bandPosition": 0, "sort": "ascending", "scale": {"paddingInner": 0, "paddingOuter": 0}, "axis": null},
                    "y": {"datum": 0, "type": "quantitative", "scale": {"domain": [0, 1.09], "nice": false}, "axis": {"orient": "right", "title": null, "values": [0, 0.2, 0.4, 0.6, 0.8, 1], "format": ".1f", "grid": false, "domain": false, "tickSize": 3, "labelPadding": 1}},
                    "y2": {"datum": 1}
                  }
                },
                {
                  "transform": [{"aggregate": [{"op": "count", "as": "n"}], "groupby": ["LD"]}],
                  "mark": {"type": "rect", "fill": "white", "stroke": "#555", "strokeWidth": 1},
                  "encoding": {
                    "x": {"field": "LD", "type": "nominal", "scale": {"paddingInner": 0, "paddingOuter": 0}, "axis": null},
                    "y": {"datum": 1, "type": "quantitative", "scale": {"domain": [0, 1.09], "nice": false}, "axis": null},
                    "y2": {"datum": 1.09}
                  }
                },
                {
                  "transform": [{"aggregate": [{"op": "count", "as": "n"}], "groupby": ["LD"]}],
                  "mark": {"type": "rule", "color": "#444", "strokeWidth": 1},
                  "encoding": {
                    "x": {"field": "LD", "type": "nominal", "bandPosition": 0, "scale": {"paddingInner": 0, "paddingOuter": 0}, "axis": null},
                    "y": {"datum": 0, "type": "quantitative", "scale": {"domain": [0, 1.09], "nice": false}, "axis": null},
                    "y2": {"datum": 1.09}
                  }
                },
                {
                  "transform": [{"aggregate": [{"op": "count", "as": "n"}], "groupby": ["LD"]}],
                  "mark": {"type": "text", "fontSize": 6.5, "color": "#222", "baseline": "middle"},
                  "encoding": {
                    "x": {"field": "LD", "type": "nominal", "scale": {"paddingInner": 0, "paddingOuter": 0}, "axis": null},
                    "y": {"datum": 1.045, "type": "quantitative", "scale": {"domain": [0, 1.09], "nice": false}, "axis": null},
                    "text": {"field": "LD"}
                  }
                }
              ]
            }
          ]
        },
        {
          "title": {"text": "(b)", "anchor": "start", "frame": "bounds", "fontSize": 13, "fontWeight": "bold", "color": "#111", "dx": -8, "dy": 15, "offset": 0},
          "resolve": {"scale": {"color": "independent"}},
          "spacing": 4,
          "vconcat": [
            {
              "data": {"name": "bars"},
              "transform": [{"filter": "datum.panel == 'b' && datum.N == 800"}],
              "title": {"text": "N = 800 (Nᴿ = Nᵁ = 400), M = 2000", "anchor": "start", "frame": "group", "offset": 2},
              "width": 264, "height": 84,
              "resolve": {"scale": {"x": "independent"}, "axis": {"y": "independent"}},
              "layer": [
                {
                  "mark": {"type": "bar", "strokeWidth": 0},
                  "encoding": {
                    "x": {"field": "cond", "type": "nominal", "sort": "ascending", "scale": {"paddingInner": 0, "paddingOuter": 0}, "axis": {"orient": "bottom", "title": null, "ticks": false, "domain": false, "labelAngle": 0, "labelPadding": 3, "labelExpr": "'fₘ = ' + slice(datum.label, -3)"}},
                    "xOffset": {"field": "method", "type": "nominal", "sort": ["EDCF", "BOOST", "SNPRuler", "epiMODE", "ChiSQ"], "scale": {"paddingInner": 0.05, "paddingOuter": 0.6}},
                    "y": {"field": "power", "type": "quantitative", "stack": null, "scale": {"domain": [0, 1.09], "nice": false}, "axis": {"orient": "left", "title": "Power", "values": [0, 0.2, 0.4, 0.6, 0.8, 1], "format": ".1f", "grid": false, "domain": false, "tickSize": 3, "labelPadding": 1, "titlePadding": 1}},
                    "color": {"field": "method", "type": "nominal", "scale": {"domain": ["EDCF", "BOOST", "SNPRuler", "epiMODE", "ChiSQ"], "range": ["#1b1b1b", "#4b4b4b", "#8f8f8f", "#5a5a5a", "#bcbcbc"]}, "legend": {"orient": "none", "legendX": 4, "legendY": 9, "direction": "horizontal", "columns": 5, "gridAlign": "all", "title": null, "symbolType": "M-1,-0.3L1,-0.3L1,0.3L-1,0.3Z", "symbolSize": 196, "symbolStrokeWidth": 0, "symbolOpacity": 1, "labelFontSize": 6, "labelOffset": 2, "columnPadding": 1.5, "padding": 0, "labelColor": "#222"}}
                  }
                },
                {
                  "transform": [{"aggregate": [{"op": "count", "as": "n"}], "groupby": ["cond"]}],
                  "mark": {"type": "rule", "color": "#444", "strokeWidth": 1},
                  "encoding": {
                    "x": {"field": "cond", "type": "nominal", "bandPosition": 0, "sort": "ascending", "scale": {"paddingInner": 0, "paddingOuter": 0}, "axis": null},
                    "y": {"datum": 0, "type": "quantitative", "scale": {"domain": [0, 1.09], "nice": false}, "axis": {"orient": "right", "title": null, "values": [0, 0.2, 0.4, 0.6, 0.8, 1], "format": ".1f", "grid": false, "domain": false, "tickSize": 3, "labelPadding": 1}},
                    "y2": {"datum": 1}
                  }
                },
                {
                  "transform": [{"aggregate": [{"op": "count", "as": "n"}], "groupby": ["LD"]}],
                  "mark": {"type": "rect", "fill": "white", "stroke": "#555", "strokeWidth": 1},
                  "encoding": {
                    "x": {"field": "LD", "type": "nominal", "scale": {"paddingInner": 0, "paddingOuter": 0}, "axis": null},
                    "y": {"datum": 1, "type": "quantitative", "scale": {"domain": [0, 1.09], "nice": false}, "axis": null},
                    "y2": {"datum": 1.09}
                  }
                },
                {
                  "transform": [{"aggregate": [{"op": "count", "as": "n"}], "groupby": ["LD"]}],
                  "mark": {"type": "rule", "color": "#444", "strokeWidth": 1},
                  "encoding": {
                    "x": {"field": "LD", "type": "nominal", "bandPosition": 0, "scale": {"paddingInner": 0, "paddingOuter": 0}, "axis": null},
                    "y": {"datum": 0, "type": "quantitative", "scale": {"domain": [0, 1.09], "nice": false}, "axis": null},
                    "y2": {"datum": 1.09}
                  }
                },
                {
                  "transform": [{"aggregate": [{"op": "count", "as": "n"}], "groupby": ["LD"]}],
                  "mark": {"type": "text", "fontSize": 6.5, "color": "#222", "baseline": "middle"},
                  "encoding": {
                    "x": {"field": "LD", "type": "nominal", "scale": {"paddingInner": 0, "paddingOuter": 0}, "axis": null},
                    "y": {"datum": 1.045, "type": "quantitative", "scale": {"domain": [0, 1.09], "nice": false}, "axis": null},
                    "text": {"field": "LD"}
                  }
                }
              ]
            },
            {
              "data": {"name": "bars"},
              "transform": [{"filter": "datum.panel == 'b' && datum.N == 1600"}],
              "title": {"text": "N = 1600 (Nᴿ = Nᵁ = 800), M = 2000", "anchor": "start", "frame": "group", "offset": 2},
              "width": 264, "height": 84,
              "resolve": {"scale": {"x": "independent"}, "axis": {"y": "independent"}},
              "layer": [
                {
                  "mark": {"type": "bar", "strokeWidth": 0},
                  "encoding": {
                    "x": {"field": "cond", "type": "nominal", "sort": "ascending", "scale": {"paddingInner": 0, "paddingOuter": 0}, "axis": {"orient": "bottom", "title": null, "ticks": false, "domain": false, "labelAngle": 0, "labelPadding": 3, "labelExpr": "'fₘ = ' + slice(datum.label, -3)"}},
                    "xOffset": {"field": "method", "type": "nominal", "sort": ["EDCF", "BOOST", "SNPRuler", "epiMODE", "ChiSQ"], "scale": {"paddingInner": 0.05, "paddingOuter": 0.6}},
                    "y": {"field": "power", "type": "quantitative", "stack": null, "scale": {"domain": [0, 1.09], "nice": false}, "axis": {"orient": "left", "title": "Power", "values": [0, 0.2, 0.4, 0.6, 0.8, 1], "format": ".1f", "grid": false, "domain": false, "tickSize": 3, "labelPadding": 1, "titlePadding": 1}},
                    "color": {"field": "method", "type": "nominal", "scale": {"domain": ["EDCF", "BOOST", "SNPRuler", "epiMODE", "ChiSQ"], "range": ["#1b1b1b", "#4b4b4b", "#8f8f8f", "#5a5a5a", "#bcbcbc"]}, "legend": null}
                  }
                },
                {
                  "transform": [{"aggregate": [{"op": "count", "as": "n"}], "groupby": ["cond"]}],
                  "mark": {"type": "rule", "color": "#444", "strokeWidth": 1},
                  "encoding": {
                    "x": {"field": "cond", "type": "nominal", "bandPosition": 0, "sort": "ascending", "scale": {"paddingInner": 0, "paddingOuter": 0}, "axis": null},
                    "y": {"datum": 0, "type": "quantitative", "scale": {"domain": [0, 1.09], "nice": false}, "axis": {"orient": "right", "title": null, "values": [0, 0.2, 0.4, 0.6, 0.8, 1], "format": ".1f", "grid": false, "domain": false, "tickSize": 3, "labelPadding": 1}},
                    "y2": {"datum": 1}
                  }
                },
                {
                  "transform": [{"aggregate": [{"op": "count", "as": "n"}], "groupby": ["LD"]}],
                  "mark": {"type": "rect", "fill": "white", "stroke": "#555", "strokeWidth": 1},
                  "encoding": {
                    "x": {"field": "LD", "type": "nominal", "scale": {"paddingInner": 0, "paddingOuter": 0}, "axis": null},
                    "y": {"datum": 1, "type": "quantitative", "scale": {"domain": [0, 1.09], "nice": false}, "axis": null},
                    "y2": {"datum": 1.09}
                  }
                },
                {
                  "transform": [{"aggregate": [{"op": "count", "as": "n"}], "groupby": ["LD"]}],
                  "mark": {"type": "rule", "color": "#444", "strokeWidth": 1},
                  "encoding": {
                    "x": {"field": "LD", "type": "nominal", "bandPosition": 0, "scale": {"paddingInner": 0, "paddingOuter": 0}, "axis": null},
                    "y": {"datum": 0, "type": "quantitative", "scale": {"domain": [0, 1.09], "nice": false}, "axis": null},
                    "y2": {"datum": 1.09}
                  }
                },
                {
                  "transform": [{"aggregate": [{"op": "count", "as": "n"}], "groupby": ["LD"]}],
                  "mark": {"type": "text", "fontSize": 6.5, "color": "#222", "baseline": "middle"},
                  "encoding": {
                    "x": {"field": "LD", "type": "nominal", "scale": {"paddingInner": 0, "paddingOuter": 0}, "axis": null},
                    "y": {"datum": 1.045, "type": "quantitative", "scale": {"domain": [0, 1.09], "nice": false}, "axis": null},
                    "text": {"field": "LD"}
                  }
                }
              ]
            }
          ]
        }
      ]
    },
    {
      "resolve": {"scale": {"color": "independent"}},
      "spacing": 0,
      "hconcat": [
        {
          "title": {"text": "(c)", "anchor": "start", "frame": "bounds", "fontSize": 13, "fontWeight": "bold", "color": "#111", "dx": -8, "dy": 15, "offset": 0},
          "resolve": {"scale": {"color": "independent"}},
          "spacing": 4,
          "vconcat": [
            {
              "data": {"name": "bars"},
              "transform": [{"filter": "datum.panel == 'c' && datum.N == 800"}],
              "title": {"text": "N = 800 (Nᴿ = Nᵁ = 400), M = 2000", "anchor": "start", "frame": "group", "offset": 2},
              "width": 264, "height": 84,
              "resolve": {"scale": {"x": "independent"}, "axis": {"y": "independent"}},
              "layer": [
                {
                  "mark": {"type": "bar", "strokeWidth": 0},
                  "encoding": {
                    "x": {"field": "cond", "type": "nominal", "sort": "ascending", "scale": {"paddingInner": 0, "paddingOuter": 0}, "axis": {"orient": "bottom", "title": null, "ticks": false, "domain": false, "labelAngle": 0, "labelPadding": 3, "labelExpr": "'fₘ = ' + slice(datum.label, -3)"}},
                    "xOffset": {"field": "method", "type": "nominal", "sort": ["EDCF", "BOOST", "SNPRuler", "epiMODE", "ChiSQ"], "scale": {"paddingInner": 0.05, "paddingOuter": 0.6}},
                    "y": {"field": "power", "type": "quantitative", "stack": null, "scale": {"domain": [0, 1.09], "nice": false}, "axis": {"orient": "left", "title": "Power", "values": [0, 0.2, 0.4, 0.6, 0.8, 1], "format": ".1f", "grid": false, "domain": false, "tickSize": 3, "labelPadding": 1, "titlePadding": 1}},
                    "color": {"field": "method", "type": "nominal", "scale": {"domain": ["EDCF", "BOOST", "SNPRuler", "epiMODE", "ChiSQ"], "range": ["#1b1b1b", "#4b4b4b", "#8f8f8f", "#5a5a5a", "#bcbcbc"]}, "legend": {"orient": "none", "legendX": 4, "legendY": 9, "direction": "horizontal", "columns": 5, "gridAlign": "all", "title": null, "symbolType": "M-1,-0.3L1,-0.3L1,0.3L-1,0.3Z", "symbolSize": 196, "symbolStrokeWidth": 0, "symbolOpacity": 1, "labelFontSize": 6, "labelOffset": 2, "columnPadding": 1.5, "padding": 0, "labelColor": "#222"}}
                  }
                },
                {
                  "transform": [{"aggregate": [{"op": "count", "as": "n"}], "groupby": ["cond"]}],
                  "mark": {"type": "rule", "color": "#444", "strokeWidth": 1},
                  "encoding": {
                    "x": {"field": "cond", "type": "nominal", "bandPosition": 0, "sort": "ascending", "scale": {"paddingInner": 0, "paddingOuter": 0}, "axis": null},
                    "y": {"datum": 0, "type": "quantitative", "scale": {"domain": [0, 1.09], "nice": false}, "axis": {"orient": "right", "title": null, "values": [0, 0.2, 0.4, 0.6, 0.8, 1], "format": ".1f", "grid": false, "domain": false, "tickSize": 3, "labelPadding": 1}},
                    "y2": {"datum": 1}
                  }
                },
                {
                  "transform": [{"aggregate": [{"op": "count", "as": "n"}], "groupby": ["LD"]}],
                  "mark": {"type": "rect", "fill": "white", "stroke": "#555", "strokeWidth": 1},
                  "encoding": {
                    "x": {"field": "LD", "type": "nominal", "scale": {"paddingInner": 0, "paddingOuter": 0}, "axis": null},
                    "y": {"datum": 1, "type": "quantitative", "scale": {"domain": [0, 1.09], "nice": false}, "axis": null},
                    "y2": {"datum": 1.09}
                  }
                },
                {
                  "transform": [{"aggregate": [{"op": "count", "as": "n"}], "groupby": ["LD"]}],
                  "mark": {"type": "rule", "color": "#444", "strokeWidth": 1},
                  "encoding": {
                    "x": {"field": "LD", "type": "nominal", "bandPosition": 0, "scale": {"paddingInner": 0, "paddingOuter": 0}, "axis": null},
                    "y": {"datum": 0, "type": "quantitative", "scale": {"domain": [0, 1.09], "nice": false}, "axis": null},
                    "y2": {"datum": 1.09}
                  }
                },
                {
                  "transform": [{"aggregate": [{"op": "count", "as": "n"}], "groupby": ["LD"]}],
                  "mark": {"type": "text", "fontSize": 6.5, "color": "#222", "baseline": "middle"},
                  "encoding": {
                    "x": {"field": "LD", "type": "nominal", "scale": {"paddingInner": 0, "paddingOuter": 0}, "axis": null},
                    "y": {"datum": 1.045, "type": "quantitative", "scale": {"domain": [0, 1.09], "nice": false}, "axis": null},
                    "text": {"field": "LD"}
                  }
                }
              ]
            },
            {
              "data": {"name": "bars"},
              "transform": [{"filter": "datum.panel == 'c' && datum.N == 1600"}],
              "title": {"text": "N = 1600 (Nᴿ = Nᵁ = 800), M = 2000", "anchor": "start", "frame": "group", "offset": 2},
              "width": 264, "height": 84,
              "resolve": {"scale": {"x": "independent"}, "axis": {"y": "independent"}},
              "layer": [
                {
                  "mark": {"type": "bar", "strokeWidth": 0},
                  "encoding": {
                    "x": {"field": "cond", "type": "nominal", "sort": "ascending", "scale": {"paddingInner": 0, "paddingOuter": 0}, "axis": {"orient": "bottom", "title": null, "ticks": false, "domain": false, "labelAngle": 0, "labelPadding": 3, "labelExpr": "'fₘ = ' + slice(datum.label, -3)"}},
                    "xOffset": {"field": "method", "type": "nominal", "sort": ["EDCF", "BOOST", "SNPRuler", "epiMODE", "ChiSQ"], "scale": {"paddingInner": 0.05, "paddingOuter": 0.6}},
                    "y": {"field": "power", "type": "quantitative", "stack": null, "scale": {"domain": [0, 1.09], "nice": false}, "axis": {"orient": "left", "title": "Power", "values": [0, 0.2, 0.4, 0.6, 0.8, 1], "format": ".1f", "grid": false, "domain": false, "tickSize": 3, "labelPadding": 1, "titlePadding": 1}},
                    "color": {"field": "method", "type": "nominal", "scale": {"domain": ["EDCF", "BOOST", "SNPRuler", "epiMODE", "ChiSQ"], "range": ["#1b1b1b", "#4b4b4b", "#8f8f8f", "#5a5a5a", "#bcbcbc"]}, "legend": null}
                  }
                },
                {
                  "transform": [{"aggregate": [{"op": "count", "as": "n"}], "groupby": ["cond"]}],
                  "mark": {"type": "rule", "color": "#444", "strokeWidth": 1},
                  "encoding": {
                    "x": {"field": "cond", "type": "nominal", "bandPosition": 0, "sort": "ascending", "scale": {"paddingInner": 0, "paddingOuter": 0}, "axis": null},
                    "y": {"datum": 0, "type": "quantitative", "scale": {"domain": [0, 1.09], "nice": false}, "axis": {"orient": "right", "title": null, "values": [0, 0.2, 0.4, 0.6, 0.8, 1], "format": ".1f", "grid": false, "domain": false, "tickSize": 3, "labelPadding": 1}},
                    "y2": {"datum": 1}
                  }
                },
                {
                  "transform": [{"aggregate": [{"op": "count", "as": "n"}], "groupby": ["LD"]}],
                  "mark": {"type": "rect", "fill": "white", "stroke": "#555", "strokeWidth": 1},
                  "encoding": {
                    "x": {"field": "LD", "type": "nominal", "scale": {"paddingInner": 0, "paddingOuter": 0}, "axis": null},
                    "y": {"datum": 1, "type": "quantitative", "scale": {"domain": [0, 1.09], "nice": false}, "axis": null},
                    "y2": {"datum": 1.09}
                  }
                },
                {
                  "transform": [{"aggregate": [{"op": "count", "as": "n"}], "groupby": ["LD"]}],
                  "mark": {"type": "rule", "color": "#444", "strokeWidth": 1},
                  "encoding": {
                    "x": {"field": "LD", "type": "nominal", "bandPosition": 0, "scale": {"paddingInner": 0, "paddingOuter": 0}, "axis": null},
                    "y": {"datum": 0, "type": "quantitative", "scale": {"domain": [0, 1.09], "nice": false}, "axis": null},
                    "y2": {"datum": 1.09}
                  }
                },
                {
                  "transform": [{"aggregate": [{"op": "count", "as": "n"}], "groupby": ["LD"]}],
                  "mark": {"type": "text", "fontSize": 6.5, "color": "#222", "baseline": "middle"},
                  "encoding": {
                    "x": {"field": "LD", "type": "nominal", "scale": {"paddingInner": 0, "paddingOuter": 0}, "axis": null},
                    "y": {"datum": 1.045, "type": "quantitative", "scale": {"domain": [0, 1.09], "nice": false}, "axis": null},
                    "text": {"field": "LD"}
                  }
                }
              ]
            }
          ]
        },
        {
          "title": {"text": "(d)", "anchor": "start", "frame": "bounds", "fontSize": 13, "fontWeight": "bold", "color": "#111", "dx": -8, "dy": 15, "offset": 0},
          "resolve": {"scale": {"color": "independent"}},
          "spacing": 4,
          "vconcat": [
            {
              "data": {"name": "bars"},
              "transform": [{"filter": "datum.panel == 'd' && datum.N == 800"}],
              "title": {"text": "N = 800 (Nᴿ = Nᵁ = 400), M = 2000", "anchor": "start", "frame": "group", "offset": 2},
              "width": 264, "height": 84,
              "resolve": {"scale": {"x": "independent"}, "axis": {"y": "independent"}},
              "layer": [
                {
                  "mark": {"type": "bar", "strokeWidth": 0},
                  "encoding": {
                    "x": {"field": "cond", "type": "nominal", "sort": "ascending", "scale": {"paddingInner": 0, "paddingOuter": 0}, "axis": {"orient": "bottom", "title": null, "ticks": false, "domain": false, "labelAngle": 0, "labelPadding": 3, "labelExpr": "'fₘ = ' + slice(datum.label, -3)"}},
                    "xOffset": {"field": "method", "type": "nominal", "sort": ["EDCF", "BOOST", "SNPRuler", "epiMODE", "ChiSQ"], "scale": {"paddingInner": 0.05, "paddingOuter": 0.6}},
                    "y": {"field": "power", "type": "quantitative", "stack": null, "scale": {"domain": [0, 1.09], "nice": false}, "axis": {"orient": "left", "title": "Power", "values": [0, 0.2, 0.4, 0.6, 0.8, 1], "format": ".1f", "grid": false, "domain": false, "tickSize": 3, "labelPadding": 1, "titlePadding": 1}},
                    "color": {"field": "method", "type": "nominal", "scale": {"domain": ["EDCF", "BOOST", "SNPRuler", "epiMODE", "ChiSQ"], "range": ["#1b1b1b", "#4b4b4b", "#8f8f8f", "#5a5a5a", "#bcbcbc"]}, "legend": {"orient": "none", "legendX": 4, "legendY": 9, "direction": "horizontal", "columns": 5, "gridAlign": "all", "title": null, "symbolType": "M-1,-0.3L1,-0.3L1,0.3L-1,0.3Z", "symbolSize": 196, "symbolStrokeWidth": 0, "symbolOpacity": 1, "labelFontSize": 6, "labelOffset": 2, "columnPadding": 1.5, "padding": 0, "labelColor": "#222"}}
                  }
                },
                {
                  "transform": [{"aggregate": [{"op": "count", "as": "n"}], "groupby": ["cond"]}],
                  "mark": {"type": "rule", "color": "#444", "strokeWidth": 1},
                  "encoding": {
                    "x": {"field": "cond", "type": "nominal", "bandPosition": 0, "sort": "ascending", "scale": {"paddingInner": 0, "paddingOuter": 0}, "axis": null},
                    "y": {"datum": 0, "type": "quantitative", "scale": {"domain": [0, 1.09], "nice": false}, "axis": {"orient": "right", "title": null, "values": [0, 0.2, 0.4, 0.6, 0.8, 1], "format": ".1f", "grid": false, "domain": false, "tickSize": 3, "labelPadding": 1}},
                    "y2": {"datum": 1}
                  }
                },
                {
                  "transform": [{"aggregate": [{"op": "count", "as": "n"}], "groupby": ["LD"]}],
                  "mark": {"type": "rect", "fill": "white", "stroke": "#555", "strokeWidth": 1},
                  "encoding": {
                    "x": {"field": "LD", "type": "nominal", "scale": {"paddingInner": 0, "paddingOuter": 0}, "axis": null},
                    "y": {"datum": 1, "type": "quantitative", "scale": {"domain": [0, 1.09], "nice": false}, "axis": null},
                    "y2": {"datum": 1.09}
                  }
                },
                {
                  "transform": [{"aggregate": [{"op": "count", "as": "n"}], "groupby": ["LD"]}],
                  "mark": {"type": "rule", "color": "#444", "strokeWidth": 1},
                  "encoding": {
                    "x": {"field": "LD", "type": "nominal", "bandPosition": 0, "scale": {"paddingInner": 0, "paddingOuter": 0}, "axis": null},
                    "y": {"datum": 0, "type": "quantitative", "scale": {"domain": [0, 1.09], "nice": false}, "axis": null},
                    "y2": {"datum": 1.09}
                  }
                },
                {
                  "transform": [{"aggregate": [{"op": "count", "as": "n"}], "groupby": ["LD"]}],
                  "mark": {"type": "text", "fontSize": 6.5, "color": "#222", "baseline": "middle"},
                  "encoding": {
                    "x": {"field": "LD", "type": "nominal", "scale": {"paddingInner": 0, "paddingOuter": 0}, "axis": null},
                    "y": {"datum": 1.045, "type": "quantitative", "scale": {"domain": [0, 1.09], "nice": false}, "axis": null},
                    "text": {"field": "LD"}
                  }
                }
              ]
            },
            {
              "data": {"name": "bars"},
              "transform": [{"filter": "datum.panel == 'd' && datum.N == 1600"}],
              "title": {"text": "N = 1600 (Nᴿ = Nᵁ = 800), M = 2000", "anchor": "start", "frame": "group", "offset": 2},
              "width": 264, "height": 84,
              "resolve": {"scale": {"x": "independent"}, "axis": {"y": "independent"}},
              "layer": [
                {
                  "mark": {"type": "bar", "strokeWidth": 0},
                  "encoding": {
                    "x": {"field": "cond", "type": "nominal", "sort": "ascending", "scale": {"paddingInner": 0, "paddingOuter": 0}, "axis": {"orient": "bottom", "title": null, "ticks": false, "domain": false, "labelAngle": 0, "labelPadding": 3, "labelExpr": "'fₘ = ' + slice(datum.label, -3)"}},
                    "xOffset": {"field": "method", "type": "nominal", "sort": ["EDCF", "BOOST", "SNPRuler", "epiMODE", "ChiSQ"], "scale": {"paddingInner": 0.05, "paddingOuter": 0.6}},
                    "y": {"field": "power", "type": "quantitative", "stack": null, "scale": {"domain": [0, 1.09], "nice": false}, "axis": {"orient": "left", "title": "Power", "values": [0, 0.2, 0.4, 0.6, 0.8, 1], "format": ".1f", "grid": false, "domain": false, "tickSize": 3, "labelPadding": 1, "titlePadding": 1}},
                    "color": {"field": "method", "type": "nominal", "scale": {"domain": ["EDCF", "BOOST", "SNPRuler", "epiMODE", "ChiSQ"], "range": ["#1b1b1b", "#4b4b4b", "#8f8f8f", "#5a5a5a", "#bcbcbc"]}, "legend": null}
                  }
                },
                {
                  "transform": [{"aggregate": [{"op": "count", "as": "n"}], "groupby": ["cond"]}],
                  "mark": {"type": "rule", "color": "#444", "strokeWidth": 1},
                  "encoding": {
                    "x": {"field": "cond", "type": "nominal", "bandPosition": 0, "sort": "ascending", "scale": {"paddingInner": 0, "paddingOuter": 0}, "axis": null},
                    "y": {"datum": 0, "type": "quantitative", "scale": {"domain": [0, 1.09], "nice": false}, "axis": {"orient": "right", "title": null, "values": [0, 0.2, 0.4, 0.6, 0.8, 1], "format": ".1f", "grid": false, "domain": false, "tickSize": 3, "labelPadding": 1}},
                    "y2": {"datum": 1}
                  }
                },
                {
                  "transform": [{"aggregate": [{"op": "count", "as": "n"}], "groupby": ["LD"]}],
                  "mark": {"type": "rect", "fill": "white", "stroke": "#555", "strokeWidth": 1},
                  "encoding": {
                    "x": {"field": "LD", "type": "nominal", "scale": {"paddingInner": 0, "paddingOuter": 0}, "axis": null},
                    "y": {"datum": 1, "type": "quantitative", "scale": {"domain": [0, 1.09], "nice": false}, "axis": null},
                    "y2": {"datum": 1.09}
                  }
                },
                {
                  "transform": [{"aggregate": [{"op": "count", "as": "n"}], "groupby": ["LD"]}],
                  "mark": {"type": "rule", "color": "#444", "strokeWidth": 1},
                  "encoding": {
                    "x": {"field": "LD", "type": "nominal", "bandPosition": 0, "scale": {"paddingInner": 0, "paddingOuter": 0}, "axis": null},
                    "y": {"datum": 0, "type": "quantitative", "scale": {"domain": [0, 1.09], "nice": false}, "axis": null},
                    "y2": {"datum": 1.09}
                  }
                },
                {
                  "transform": [{"aggregate": [{"op": "count", "as": "n"}], "groupby": ["LD"]}],
                  "mark": {"type": "text", "fontSize": 6.5, "color": "#222", "baseline": "middle"},
                  "encoding": {
                    "x": {"field": "LD", "type": "nominal", "scale": {"paddingInner": 0, "paddingOuter": 0}, "axis": null},
                    "y": {"datum": 1.045, "type": "quantitative", "scale": {"domain": [0, 1.09], "nice": false}, "axis": null},
                    "text": {"field": "LD"}
                  }
                }
              ]
            }
          ]
        }
      ]
    }
  ]
}
